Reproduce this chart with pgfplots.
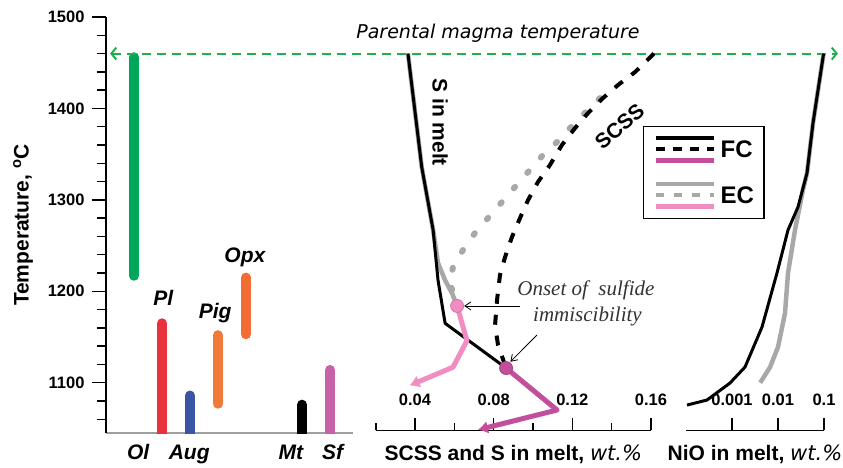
\documentclass[border=0pt]{standalone}
\usepackage{pgfplots}
\pgfplotsset{compat=1.18}
\usetikzlibrary{arrows.meta}
\usepackage{fontspec}
\setmainfont{Liberation Sans}
\newfontfamily\dejavu{DejaVu Sans}
\newfontfamily\lserif{Liberation Serif}
\definecolor{olc}{HTML}{00A65A}
\definecolor{plc}{HTML}{E8323C}
\definecolor{augc}{HTML}{3A55A4}
\definecolor{pigc}{HTML}{F07A3A}
\definecolor{opxc}{HTML}{F26C33}
\definecolor{sfc}{HTML}{C862A8}
\definecolor{magc}{HTML}{C24E9C}
\definecolor{pinkc}{HTML}{F28DC2}
\definecolor{grayc}{HTML}{A8A8A8}
\definecolor{greenl}{HTML}{1DB04B}
\newcommand{\tickfont}{\fontsize{16.5}{16.5}\selectfont\bfseries}
\newcommand{\labfont}{\fontsize{21}{21}\selectfont\bfseries}
\newcommand{\catfont}{\fontsize{21}{21}\selectfont\bfseries\itshape}
\newcommand{\wt}{{\dejavu\mdseries\itshape wt.\%}}
% tick label with its upward tick mark underneath (baseline = axis line)
\newcommand{\tlab}[1]{\vbox{\offinterlineskip\halign{\hfil##\hfil\cr #1\cr\noalign{\kern13pt}\vrule width1.6pt height12pt depth0pt\cr}}}
\newcommand{\mtick}{\vrule width1.6pt height7pt depth0pt}
\pgfplotsset{
  bottomonly/.style={
    axis x line*=bottom, axis y line*=left,
    y axis line style={draw=none}, ytick=\empty,
    xtick pos=lower, xticklabel pos=lower,
    x axis line style={line width=1.5pt, black},
    every tick/.style={draw=none},
    major tick length=0pt, minor tick length=0pt,
    xticklabel style={font=\tickfont, anchor=base, inner sep=0pt, yshift=0pt},
    xlabel style={font=\labfont, at={(axis description cs:0.5,-0.0726)}, anchor=base},
    clip=false,
  },
  tickmark/.style={forget plot, black, line width=1.6pt},
}
\begin{document}
\begin{tikzpicture}
\path[use as bounding box] (0pt,0pt) rectangle (843pt,467pt);
% ---------------- left panel: mineral crystallization ranges
\begin{axis}[
  at={(106pt,450pt)}, anchor=north west,
  scale only axis, width=247pt, height=416pt,
  xmin=0, xmax=8.82, ymin=1045, ymax=1500,
  axis x line*=bottom, axis y line*=left,
  x axis line style={draw=gray!75, line width=1.5pt},
  y axis line style={line width=1.5pt},
  ytick={1100,1200,1300,1400,1500},
  minor ytick={1060,1080,...,1480},
  tick align=outside, major tick length=14pt, minor tick length=9pt,
  y tick style={line width=1.5pt, black},
  xtick={1.15,2.97,6.6,8.09}, xticklabels={Ol,Aug,Mt,Sf},
  x tick style={draw=none},
  xticklabel style={font=\catfont, anchor=base, yshift=-12pt},
  yticklabel style={font=\tickfont, xshift=-4pt},
  /pgf/number format/assume math mode=true,
  /pgf/number format/1000 sep={},
  ylabel={Temperature, \textsuperscript{o}C},
  ylabel style={font=\labfont, at={(axis description cs:-0.336,0.5)}, anchor=center},
  clip=true,
]
\addplot[olc, line width=10pt, line cap=round] coordinates {(1,1217) (1,1456)};
\addplot[plc, line width=10pt, line cap=round] coordinates {(2,1020) (2,1165)};
\addplot[augc, line width=10pt, line cap=round] coordinates {(3,1020) (3,1086)};
\addplot[pigc, line width=10pt, line cap=round] coordinates {(4,1077) (4,1152)};
\addplot[opxc, line width=10pt, line cap=round] coordinates {(5,1153) (5,1215)};
\addplot[black, line width=10pt, line cap=round] coordinates {(7,1020) (7,1076)};
\addplot[sfc, line width=10pt, line cap=round] coordinates {(8,1020) (8,1114)};
\node[font=\catfont, anchor=base] at (axis cs:2.05,1185) {Pl};
\node[font=\catfont, anchor=base] at (axis cs:3.9,1170) {Pig};
\node[font=\catfont, anchor=base] at (axis cs:4.96,1232) {Opx};
\end{axis}
% ---------------- middle panel: SCSS and S in melt
\begin{axis}[
  at={(375.7pt,450pt)}, anchor=north west,
  scale only axis, width=275.3pt, height=413.3pt,
  xmin=0.02, xmax=0.16, ymin=1048, ymax=1500,
  bottomonly,
  xtick={0.04,0.08,0.12,0.16},
  xticklabels={\tlab{0.04},\tlab{0.08},\tlab{0.12},\tlab{0.16}},
  extra x ticks={0.02,0.06,0.10,0.14},
  extra x tick labels={\mtick,\mtick,\mtick,\mtick},
  xlabel={SCSS and S in melt, \wt},
  legend style={at={(axis description cs:0.971,0.7362)}, anchor=north west,
    draw=black, line width=1.2pt, fill=white, inner xsep=10pt, inner ysep=5.5pt,
    row sep=0pt,
    nodes={inner sep=0pt, text height=5.75pt, text depth=5.75pt},
    font=\fontsize{24}{24}\selectfont\bfseries},
  legend cell align=left,
  legend image code/.code={\draw[#1] (0pt,0pt) -- (58pt,0pt);},
]
% axis tick marks (pointing up): major 13.1 C = 12 pt, minor 7.7 C = 7 pt
\addplot[tickmark] coordinates {(0.04,1048) (0.04,1061.1)};
\addplot[tickmark] coordinates {(0.08,1048) (0.08,1061.1)};
\addplot[tickmark] coordinates {(0.12,1048) (0.12,1061.1)};
\addplot[tickmark] coordinates {(0.16,1048) (0.16,1061.1)};
\addplot[tickmark] coordinates {(0.02,1048) (0.02,1055.7)};
\addplot[tickmark] coordinates {(0.06,1048) (0.06,1055.7)};
\addplot[tickmark] coordinates {(0.10,1048) (0.10,1055.7)};
\addplot[tickmark] coordinates {(0.14,1048) (0.14,1055.7)};
% parental magma temperature
\addplot[forget plot, greenl, line width=2pt, dash pattern=on 9pt off 6pt,
  {Straight Barb[length=5pt,width=12pt]}-{Straight Barb[length=5pt,width=12pt]}]
  coordinates {(-0.1151,1460) (0.2551,1460)};
\node[font=\dejavu\itshape\fontsize{19}{19}\selectfont, anchor=base] at (axis cs:0.0822,1476) {Parental magma temperature};
% EC (grey)
\addplot[forget plot, grayc, line width=4.5pt, line join=round] coordinates {
 (0.0364,1460) (0.0434,1336) (0.0492,1267) (0.0517,1231) (0.0553,1212) (0.0588,1198) (0.0614,1184)};
\addplot[forget plot, grayc, line width=6pt, line cap=round, dash pattern=on 2pt off 18.5pt] coordinates {
 (0.1341,1411.4) (0.1269,1396.1) (0.1198,1380.8) (0.1122,1363.3) (0.1051,1349.1) (0.0975,1330.5)
 (0.0908,1314.1) (0.0842,1297.7) (0.0771,1280.2) (0.0705,1263.8) (0.0644,1245.2) (0.0593,1226.6)
 (0.0578,1209.1) (0.0614,1184)};
% FC (black)
\addplot[forget plot, black, line width=4pt, dash pattern=on 10pt off 11pt] coordinates {
 (0.1615,1460) (0.1519,1439.8) (0.1432,1425.6) (0.1356,1411.4) (0.1280,1395.0) (0.1214,1378.6)
 (0.1147,1360.0) (0.1086,1338.1) (0.1025,1319.5) (0.0975,1299.9) (0.0934,1280.2) (0.0893,1259.4)
 (0.0858,1237.5) (0.0832,1217.8) (0.0817,1190.5) (0.0807,1163.1) (0.0822,1141.3) (0.0863,1116.1)};
\addplot[forget plot, black, line width=3pt, line join=round] coordinates {
 (0.0364,1460) (0.0434,1336) (0.0492,1267) (0.0517,1212) (0.0553,1165) (0.0863,1116.1)};
% after sulfide immiscibility
\addplot[forget plot, pinkc, line width=5pt, line join=round, -{Latex[length=10pt,width=13pt]}] coordinates {
 (0.0614,1184) (0.0664,1146) (0.0593,1117) (0.0372,1097)};
\addplot[forget plot, magc, line width=5pt, line join=round, -{Latex[length=10pt,width=13pt]}] coordinates {
 (0.0863,1116.1) (0.1122,1070.2) (0.0720,1048.5)};
\addplot[forget plot, only marks, mark=*, mark size=6.5pt, mark options={fill=pinkc, draw=pinkc!85!black, line width=0.8pt}] coordinates {(0.0614,1184)};
\addplot[forget plot, only marks, mark=*, mark size=6.5pt, mark options={fill=magc, draw=magc!85!black, line width=0.8pt}] coordinates {(0.0863,1116.1)};
% labels
\node[font=\labfont, rotate=-90] at (axis cs:0.0527,1385) {S in melt};
\node[font=\fontsize{21}{21}\selectfont\bfseries, rotate=41] at (axis cs:0.1440,1380) {SCSS};
\node[font=\lserif\itshape\fontsize{21}{21}\selectfont, text=black!80, anchor=base] at (axis cs:0.1269,1195) {Onset of\ \ sulfide};
\node[font=\lserif\itshape\fontsize{21}{21}\selectfont, text=black!80, anchor=base] at (axis cs:0.1277,1167) {immiscibility};
\draw[line width=0.8pt, -{Straight Barb[length=6pt,width=8pt]}] (axis cs:0.0934,1184) -- (axis cs:0.0650,1184);
\draw[line width=0.8pt, -{Straight Barb[length=6pt,width=8pt]}] (axis cs:0.1020,1152.2) -- (axis cs:0.0885,1123);
% legend
\addlegendimage{black, line width=3.5pt}\addlegendentry{}
\addlegendimage{black, line width=4pt, dash pattern=on 9pt off 8pt}\addlegendentry{\hspace{4pt}\raisebox{-8.6pt}{FC}}
\addlegendimage{magc, line width=5pt}\addlegendentry{}
\addlegendimage{empty legend}\addlegendentry{}
\addlegendimage{grayc, line width=3.5pt}\addlegendentry{}
\addlegendimage{grayc, line width=4pt, dash pattern=on 8pt off 10pt}\addlegendentry{\hspace{4pt}\raisebox{-8.6pt}{EC}}
\addlegendimage{pinkc, line width=5pt}\addlegendentry{}
\end{axis}
% ---------------- right panel: NiO in melt
\begin{axis}[
  at={(686pt,450pt)}, anchor=north west,
  scale only axis, width=138pt, height=413.3pt,
  xmode=log, xmin=1e-4, xmax=0.1, ymin=1048, ymax=1500,
  bottomonly,
  xtick={0.001,0.01,0.1},
  xticklabels={\tlab{0.001},\tlab{0.01},\tlab{0.1}},
  xminorticks=false,
  xlabel={NiO in melt, \wt},
]
\addplot[tickmark] coordinates {(0.001,1048) (0.001,1061.1)};
\addplot[tickmark] coordinates {(0.01,1048) (0.01,1061.1)};
\addplot[tickmark] coordinates {(0.1,1048) (0.1,1061.1)};
\addplot[grayc, line width=4.5pt, line join=round] coordinates {
 (0.098,1460) (0.0577,1384) (0.0427,1329) (0.0349,1311) (0.0234,1267) (0.0165,1220)
 (0.0142,1176) (0.0100,1139) (0.0067,1117) (0.0041,1100)};
\addplot[black, line width=3pt, line join=round] coordinates {
 (0.098,1460) (0.0577,1384.1) (0.0427,1329.4) (0.0272,1292.2) (0.0165,1267) (0.0095,1220)
 (0.00449,1160.9) (0.00192,1117.2) (0.000905,1099.7) (0.000286,1081.1) (0.000105,1075.6)};
\end{axis}
\end{tikzpicture}
\end{document}
